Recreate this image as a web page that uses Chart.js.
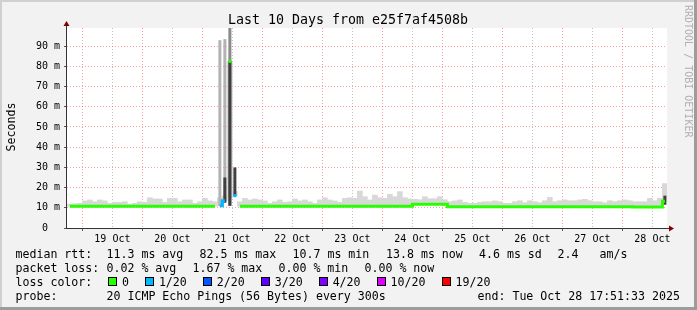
<!DOCTYPE html>
<html>
<head>
<meta charset="utf-8">
<title>Last 10 Days from e25f7af4508b</title>
<script src="https://cdn.jsdelivr.net/npm/chart.js@4/dist/chart.umd.min.js"></script>
<style>
    html, body { margin: 0; padding: 0; background: #f2f2f2; }
    #graph { display: block; }
</style>
</head>
<body>
<canvas id="graph" width="697" height="310"></canvas>
<script>
/* === DATA (values in ms) === */

// 2 hour bins, first bin centre in hours after 19 Oct 00:00
const binStartHour = -5;
const binHours = 2;
const xMinHour = -6.15;   // 18 Oct 17:51
const xMaxHour = 233.85;  // 28 Oct 17:51
const yMaxMs = 99;

const dayLabels = ['19 Oct', '20 Oct', '21 Oct', '22 Oct', '23 Oct',
                   '24 Oct', '25 Oct', '26 Oct', '27 Oct', '28 Oct'];

const medianMs = [
    10.8, 10.8, 10.8, 10.8, 10.8, 10.8, 10.8, 10.8, 10.8, 10.8,
    10.8, 10.8, 10.8, 10.8, 10.8, 10.8, 10.8, 10.8, 10.8, 10.8,
    10.8, 10.8, 10.8, 10.8, 10.8, 10.8, 10.8, 10.8, 10.8, 10.8,
    11.0, 13.5, 82.5, 16.0, 10.8, 10.8, 10.8, 10.8, 10.8, 10.8,
    10.8, 10.8, 10.8, 10.8, 10.8, 10.8, 10.8, 10.8, 10.8, 10.8,
    10.8, 10.8, 10.8, 10.8, 10.8, 10.8, 10.8, 10.8, 10.8, 10.8,
    10.8, 10.8, 10.8, 10.8, 10.8, 10.8, 10.8, 10.8, 10.8, 11.7,
    11.7, 11.7, 11.7, 11.7, 11.7, 11.7, 10.5, 10.5, 10.5, 10.5,
    10.5, 10.5, 10.5, 10.5, 10.5, 10.5, 10.5, 10.5, 10.5, 10.5,
    10.5, 10.5, 10.5, 10.5, 10.5, 10.5, 10.5, 10.5, 10.5, 10.5,
    10.5, 10.5, 10.5, 10.5, 10.5, 10.5, 10.5, 10.5, 10.5, 10.5,
    10.5, 10.5, 10.5, 10.4, 10.4, 10.4, 10.4, 10.4, 10.4, 13.3
];

// pings lost out of 20 per bin
const lossCount = [
    0, 0, 0, 0, 0, 0, 0, 0, 0, 0,
    0, 0, 0, 0, 0, 0, 0, 0, 0, 0,
    0, 0, 0, 0, 0, 0, 0, 0, 0, 0,
    1, 1, 0, 1, 0, 0, 0, 0, 0, 0,
    0, 0, 0, 0, 0, 0, 0, 0, 0, 0,
    0, 0, 0, 0, 0, 0, 0, 0, 0, 0,
    0, 0, 0, 0, 0, 0, 0, 0, 0, 0,
    0, 0, 0, 0, 0, 0, 0, 0, 0, 0,
    0, 0, 0, 0, 0, 0, 0, 0, 0, 0,
    0, 0, 0, 0, 0, 0, 0, 0, 0, 0,
    0, 0, 0, 0, 0, 0, 0, 0, 0, 0,
    0, 0, 0, 0, 0, 0, 0, 0, 0, 0
];

// top of the light smoke per bin
const smokeTopMs = [
    11.8, 12.0, 12.2, 13.4, 13.9, 13.0, 13.9, 13.4, 12.2, 12.7,
    12.7, 13.0, 11.8, 12.2, 13.0, 12.7, 15.0, 14.4, 14.4, 12.7,
    14.7, 14.7, 13.0, 13.9, 13.9, 12.2, 13.0, 14.7, 13.4, 13.0,
    15.0, 16.0, 15.0, 18.0, 13.0, 14.7, 13.9, 14.4, 13.9, 13.4,
    12.2, 13.0, 13.9, 12.7, 13.0, 14.4, 13.4, 13.9, 13.0, 12.2,
    13.9, 15.0, 13.9, 13.4, 12.7, 14.7, 15.0, 14.7, 18.3, 15.5,
    13.9, 16.3, 15.0, 14.7, 16.7, 15.5, 18.0, 15.0, 14.4, 14.2,
    14.0, 15.5, 14.5, 14.5, 15.5, 14.0, 13.0, 13.4, 13.9, 12.7,
    12.2, 12.2, 12.7, 13.0, 13.0, 13.4, 13.0, 12.2, 12.2, 13.0,
    13.5, 12.5, 13.5, 13.0, 12.5, 13.5, 15.2, 13.0, 13.5, 13.9,
    13.5, 13.5, 13.9, 14.2, 13.5, 13.0, 13.0, 12.5, 13.5, 13.0,
    13.5, 13.9, 13.5, 13.0, 13.0, 13.0, 14.7, 13.5, 14.7, 22.0
];

// tall smoke of the 21 Oct outage
const spikeBins = [30, 31, 32];
const spikeLowMs = [10.8, 13.5, 11.0];
const spikeHighMs = [93.0, 93.5, 100.0];

// dense (dark) part of the smoke
const coreBins = [31, 32, 33, 119];
const coreLowMs = [12.5, 11.0, 16.0, 11.5];
const coreHighMs = [25.0, 82.5, 30.0, 16.0];

const rttStats = ['11.3 ms avg', '82.5 ms max', '10.7 ms min', '13.8 ms now', '4.6 ms sd', '2.4', 'am/s'];
const lossStats = ['0.02 % avg', '1.67 % max', '0.00 % min', '0.00 % now'];
const lossLabels = ['0', '1/20', '2/20', '3/20', '4/20', '10/20', '19/20'];
const lossColors = ['#26ff00', '#00b8ff', '#0059ff', '#5e00ff', '#7e00ff', '#dd00ff', '#ff0000'];
const probeText = '20 ICMP Echo Pings (56 Bytes) every 300s';
const endText = 'end: Tue Oct 28 17:51:33 2025';
const titleText = 'Last 10 Days from e25f7af4508b';

/* === BUILD DATASETS === */
const binHour = i => binStartHour + i * binHours;

const smokeData = smokeTopMs.map((top, i) => ({ x: binHour(i), y: [medianMs[i], top] }));
const spikeData = spikeBins.map((b, j) => ({ x: binHour(b), y: [spikeLowMs[j], spikeHighMs[j]] }));
const coreData = coreBins.map((b, j) => ({ x: binHour(b), y: [coreLowMs[j], coreHighMs[j]] }));
const medianFor = n => medianMs.map((m, i) => ({ x: binHour(i), y: lossCount[i] === n ? m : null }));

const MONO = '"DejaVu Sans Mono", monospace';
const MAJOR = 'rgba(255, 40, 40, 0.45)';
const MINOR = 'rgba(120, 120, 120, 0.45)';

function isolated(ctx) {
    const d = ctx.dataset.data, i = ctx.dataIndex;
    const on = j => d[j] && d[j].y != null;
    return on(i) && !on(i - 1) && !on(i + 1) ? 2.2 : 0;
}

/* === FRAME, AXES, TITLE, LEGEND === */
const rrdDecor = {
    id: 'rrdDecor',
    beforeDraw(chart) {
        const { ctx, chartArea: a } = chart;
        ctx.save();
        ctx.fillStyle = '#f2f2f2';
        ctx.fillRect(0, 0, chart.width, chart.height);
        ctx.fillStyle = '#ffffff';
        ctx.fillRect(a.left, a.top, a.right - a.left, a.bottom - a.top);
        ctx.restore();
    },
    afterDraw(chart) {
        const { ctx, chartArea: a } = chart;
        ctx.save();

        // axes + arrows
        ctx.strokeStyle = '#333';
        ctx.lineWidth = 1;
        ctx.beginPath();
        ctx.moveTo(a.left - 0.5, a.bottom + 1); ctx.lineTo(a.left - 0.5, a.top - 3);
        ctx.moveTo(a.left - 1, a.bottom + 0.5); ctx.lineTo(a.right + 3, a.bottom + 0.5);
        ctx.stroke();
        ctx.fillStyle = '#800000';
        ctx.beginPath();
        ctx.moveTo(a.left - 0.5, a.top - 7); ctx.lineTo(a.left + 2.5, a.top - 2); ctx.lineTo(a.left - 3.5, a.top - 2);
        ctx.closePath(); ctx.fill();
        ctx.beginPath();
        ctx.moveTo(a.right + 7, a.bottom + 0.5); ctx.lineTo(a.right + 2, a.bottom - 2.5); ctx.lineTo(a.right + 2, a.bottom + 3.5);
        ctx.closePath(); ctx.fill();

        ctx.fillStyle = '#000';
        ctx.textBaseline = 'alphabetic';

        // title
        ctx.font = '13.3px ' + MONO;
        ctx.textAlign = 'center';
        ctx.fillText(titleText, 348, 24);

        // y title
        ctx.font = '11.6px ' + MONO;
        ctx.save();
        ctx.translate(14.5, 127);
        ctx.rotate(-Math.PI / 2);
        ctx.fillText('Seconds', 0, 0);
        ctx.restore();

        // watermark
        ctx.save();
        ctx.font = '10px ' + MONO;
        ctx.fillStyle = '#b0b0b0';
        ctx.textAlign = 'left';
        ctx.translate(685, 5);
        ctx.rotate(Math.PI / 2);
        ctx.fillText('RRDTOOL / TOBI OETIKER', 0, 0);
        ctx.restore();

        // legend
        ctx.font = '11.6px ' + MONO;
        ctx.textAlign = 'left';
        const rttX = [106.5, 199.5, 292.5, 386, 479, 557.5, 599.5];
        const lossX = [106.5, 192.5, 278.5, 364.5];
        ctx.fillText('median rtt:', 15.5, 258);
        rttStats.forEach((s, i) => ctx.fillText(s, rttX[i], 258));
        ctx.fillText('packet loss:', 15.5, 272);
        lossStats.forEach((s, i) => ctx.fillText(s, lossX[i], 272));
        ctx.fillText('loss color:', 15.5, 286);
        let bx = 108.3;
        lossLabels.forEach((s, i) => {
            const x0 = Math.round(bx);
            ctx.fillStyle = lossColors[i];
            ctx.fillRect(x0, 277, 9, 9);
            ctx.strokeStyle = '#000';
            ctx.strokeRect(x0 + 0.5, 277.5, 8, 8);
            ctx.fillStyle = '#000';
            ctx.fillText(s, bx + 13.6, 286);
            bx += ctx.measureText(s).width + 30;
        });
        ctx.fillText('probe:', 15.5, 300);
        ctx.fillText(probeText, 106.5, 300);
        ctx.fillText(endText, 477.5, 300);

        // frame
        ctx.fillStyle = '#d0d0d0';
        ctx.fillRect(0, 0, chart.width, 2);
        ctx.fillRect(0, 0, 2, chart.height);
        ctx.fillStyle = '#9c9c9c';
        ctx.fillRect(0, chart.height - 3, chart.width, 3);
        ctx.fillRect(chart.width - 3, 0, 3, chart.height);

        ctx.restore();
    }
};

/* === CHART === */
const xTicks = [];
dayLabels.forEach((_, d) => { xTicks.push(d * 24, d * 24 + 12); });
const yTicks = [];
for (let v = 0; v < yMaxMs; v += 5) yTicks.push(v);

new Chart(document.getElementById('graph'), {
    type: 'bar',
    data: {
        datasets: [
            {
                type: 'line', label: 'median 0', data: medianFor(0), order: 0,
                borderColor: lossColors[0], borderWidth: 3, stepped: 'middle', fill: false, spanGaps: false,
                pointStyle: 'rect', pointRadius: isolated, pointBackgroundColor: lossColors[0], pointBorderWidth: 0
            },
            {
                type: 'line', label: 'median 1/20', data: medianFor(1), order: 0,
                borderColor: lossColors[1], borderWidth: 3, stepped: 'middle', fill: false, spanGaps: false,
                pointStyle: 'rect', pointRadius: isolated, pointBackgroundColor: lossColors[1], pointBorderWidth: 0
            },
            {
                label: 'core', data: coreData, order: 1, backgroundColor: '#404040',
                grouped: false, barPercentage: 0.6, categoryPercentage: 1, borderWidth: 0
            },
            {
                label: 'spike', data: spikeData, order: 2,
                backgroundColor: ctx => ctx.raw && ctx.raw.y[1] > 95 ? '#8a8a8a' : '#b3b3b3',
                grouped: false, barPercentage: 0.6, categoryPercentage: 1, borderWidth: 0
            },
            {
                label: 'smoke', data: smokeData, order: 3, backgroundColor: '#d8d8d8',
                grouped: false, barPercentage: 1, categoryPercentage: 1, borderWidth: 0
            }
        ]
    },
    options: {
        responsive: false,
        animation: false,
        devicePixelRatio: 1,
        layout: { padding: { left: 0, top: 28, right: 30, bottom: 0 } },
        plugins: { legend: { display: false }, tooltip: { enabled: false } },
        scales: {
            x: {
                type: 'linear', min: xMinHour, max: xMaxHour, offset: false,
                afterBuildTicks: s => { s.ticks = xTicks.map(v => ({ value: v })); },
                afterFit: s => { s.height = 82; },
                grid: {
                    offset: false, lineWidth: 1, tickLength: 3,
                    color: c => c.tick.value % 24 === 0 ? MAJOR : MINOR,
                    tickColor: c => c.tick.value % 24 === 0 ? '#555' : 'rgba(0,0,0,0)'
                },
                border: { display: false, dash: [1, 2] },
                ticks: {
                    autoSkip: false, maxRotation: 0, padding: 2, color: '#000',
                    font: { family: MONO, size: 10 },
                    callback: v => v % 24 === 12 ? dayLabels[(v - 12) / 24] : ''
                }
            },
            y: {
                min: 0, max: yMaxMs,
                afterBuildTicks: s => { s.ticks = yTicks.map(v => ({ value: v })); },
                afterFit: s => { s.width = 67; },
                grid: {
                    lineWidth: 1, tickLength: 3,
                    color: c => c.tick.value === 0 ? 'rgba(0,0,0,0)' : (c.tick.value % 10 === 0 ? MAJOR : MINOR),
                    tickColor: c => c.tick.value % 10 === 0 ? '#555' : 'rgba(0,0,0,0)'
                },
                border: { display: false, dash: [1, 2] },
                ticks: {
                    padding: 4, color: '#000',
                    font: { family: MONO, size: 10 },
                    callback: v => v % 10 !== 0 ? '' : (v === 0 ? '0  ' : v + ' m')
                }
            }
        }
    },
    plugins: [rrdDecor]
});
</script>
</body>
</html>
